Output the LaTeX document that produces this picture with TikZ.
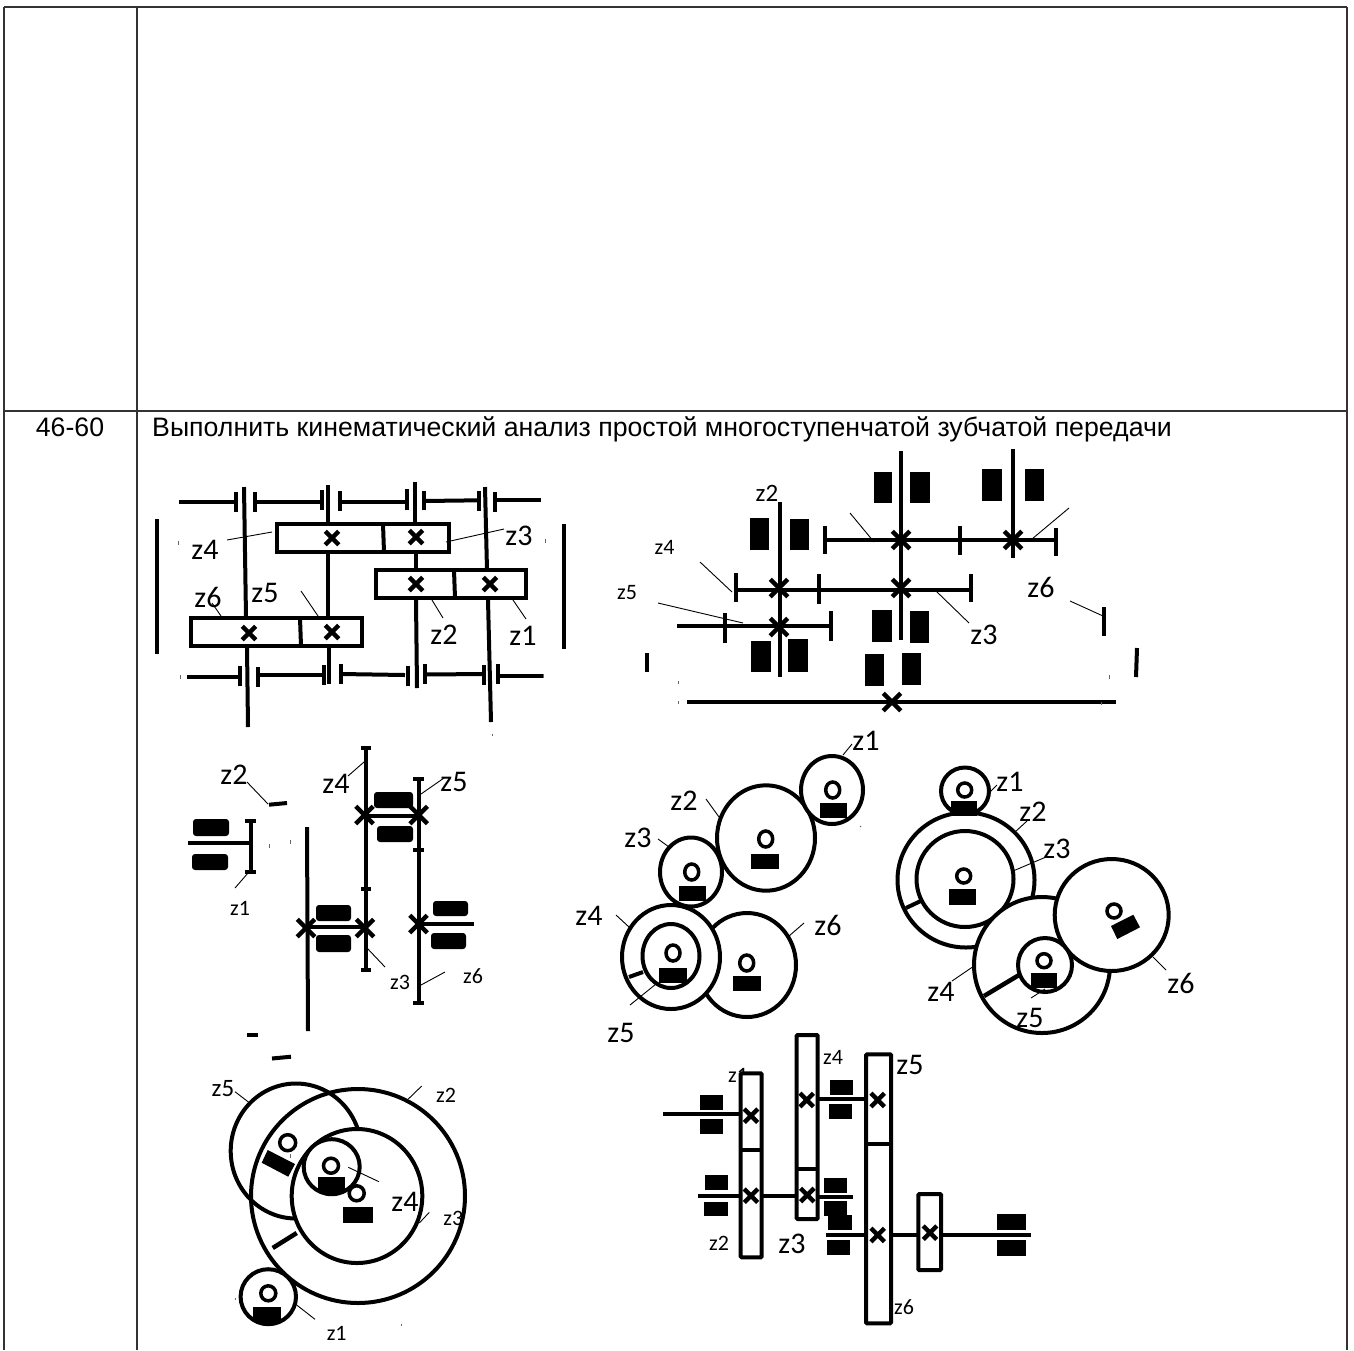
\documentclass[tikz,border=0pt]{standalone}
\usepackage{fontspec}
\setmainfont{Liberation Sans}
\newfontfamily\zfont{Carlito}
\usetikzlibrary{shapes.misc}
\tikzset{
  frameline/.style={line width=1.3pt,black!80},
  shaft/.style={line width=4pt},
  leader/.style={line width=0.9pt},
  speck/.style={line width=0.8pt,black!60},
  gear/.style={line width=4pt,fill=white},
  hub/.style={line width=3.5pt},
  gearx/.style={cross out,draw,line width=4.5pt,inner sep=0pt,minimum size=9pt},
  gearxbig/.style={cross out,draw,line width=4.5pt,inner sep=0pt,minimum size=13pt},
  zbig/.style={font=\zfont\fontsize{30}{30}\selectfont,inner sep=0pt},
  zmid/.style={font=\zfont\fontsize{25}{25}\selectfont,inner sep=0pt},
  zsmall/.style={font=\zfont\fontsize{22}{22}\selectfont,inner sep=0pt},
  tabletext/.style={font=\fontsize{26.7}{26.7}\selectfont,inner sep=0pt},
}
\begin{document}
\begin{tikzpicture}[x=1pt,y=-1pt]
\useasboundingbox[fill=white] (0,0) rectangle (1354,1350);
\coordinate (tl) at (4,7);
\coordinate (tc) at (137,7);
\coordinate (tr) at (1347,7);
\coordinate (ml) at (4,411);
\coordinate (mc) at (137,411);
\coordinate (mr) at (1347,411);
\coordinate (bl) at (4,1350);
\coordinate (bc) at (137,1350);
\coordinate (br) at (1347,1350);
\draw[frameline] (tl) -- (tr);
\draw[frameline] (ml) -- (mr);
\draw[frameline] (tl) -- (bl);
\draw[frameline] (tc) -- (bc);
\draw[frameline] (tr) -- (br);
\draw (70,436.7) node[tabletext,anchor=base] (rowno) {46-60};
\draw (152,436.7) node[tabletext,anchor=base west] (rowtext) {Выполнить кинематический анализ простой многоступенчатой зубчатой передачи};

\draw[shaft] (179,501.7) -- (236,501.7);
\draw[shaft] (255,501.7) -- (322,501.7);
\draw[shaft] (340,501.7) -- (407,501.7);
\draw[shaft] (424,501) -- (479,500.3);
\draw[shaft] (495,499.5) -- (541,499.5);
\draw[shaft] (236,491.7) -- (236,511.7);
\draw[shaft] (255,491.7) -- (255,511.7);
\draw[shaft] (322,490) -- (322,510);
\draw[shaft] (340,491) -- (340,511);
\draw[shaft] (407,489) -- (407,510);
\draw[shaft] (424,491) -- (424,510);
\draw[shaft] (479,491) -- (479,511);
\draw[shaft] (495,492) -- (495,512);
\draw[shaft] (244,487) -- (246,617);
\draw[shaft] (247,647) -- (248,727);
\draw[shaft] (328,485) -- (328,523);
\draw[shaft] (328,552) -- (328,617);
\draw[shaft] (328.5,647) -- (328.5,684);
\draw[shaft] (415,482) -- (415,523);
\draw[shaft] (415.5,552) -- (415.5,570);
\draw[shaft] (416,600) -- (417,688);
\draw[shaft] (485,487) -- (487,570);
\draw[shaft] (488,600) -- (491,722);
\draw[shaft] (277,524) rectangle (449,552);
\draw[shaft] (383,524) -- (384,552);
\draw[shaft] (375.7,570) rectangle (525.7,598);
\draw[shaft] (454,570) -- (455,598);
\draw[shaft] (190.7,618) rectangle (362,646);
\draw[shaft] (300,618) -- (301,646);
\draw (332,538) node[gearx] (xa) {};
\draw (416,537) node[gearx] (xb) {};
\draw (416,584) node[gearx] (xc) {};
\draw (490,584) node[gearx] (xd) {};
\draw (249,633) node[gearx] (xe) {};
\draw (332,632) node[gearx] (xf) {};
\draw[shaft] (187,677) -- (240,677);
\draw[shaft] (258,675) -- (324,675);
\draw[shaft] (341,674) -- (405,675);
\draw[shaft] (425,674.5) -- (484,674);
\draw[shaft] (498,676) -- (544,676);
\draw[shaft] (240,666) -- (240,686);
\draw[shaft] (258,667) -- (258,687);
\draw[shaft] (324,665) -- (324,685);
\draw[shaft] (341,664) -- (341,684);
\draw[shaft] (408,666) -- (408,686);
\draw[shaft] (425,664) -- (425,684);
\draw[shaft] (484,665) -- (484,685);
\draw[shaft] (498,664) -- (498,684);
\draw[shaft] (157,519) -- (157,654);
\draw[shaft] (564,524) -- (564,649);
\draw[leader] (227,540) -- (272,532);
\draw[leader] (446,542) -- (504,529);
\draw[leader] (212,603) -- (221,616);
\draw[leader] (301,591) -- (318,616);
\draw[leader] (432,600) -- (443,618);
\draw[leader] (513,600) -- (526,619);
\draw (205,550) node[zbig] (aza) {z4};
\draw (519,536) node[zbig] (azb) {z3};
\draw (208,597) node[zbig] (azc) {z6};
\draw (265,593) node[zbig] (azd) {z5};
\draw (444,635) node[zbig] (aze) {z2};
\draw (523,636) node[zbig] (azf) {z1};
\draw[speck] (178,541) -- (178,545);
\draw[speck] (545,539) -- (545,543);
\draw[speck] (180,675) -- (180,679);
\draw[speck] (543,674) -- (543,678);
\draw[speck] (492,734) -- (492,736);

\fill (874,472) rectangle (892,503);
\fill (910,472) rectangle (930,503);
\fill (982,469) rectangle (1002,500.5);
\fill (1025,469) rectangle (1044,501);
\fill (750,518) rectangle (769,550);
\fill (790,519) rectangle (809,550);
\fill (871.5,610) rectangle (891.5,642);
\fill (910,611) rectangle (929,643);
\fill (751,641) rectangle (771,672);
\fill (788,639) rectangle (808,672);
\fill (865,654) rectangle (884,686);
\fill (902,653) rectangle (920.5,685);
\draw[shaft] (780,502) -- (780,677);
\draw[shaft] (900.5,451) -- (900.5,640);
\draw[shaft] (1013,449) -- (1013,558);
\draw[shaft] (825,540) -- (1056,540);
\draw[shaft] (825,526) -- (825,554);
\draw[shaft] (960,526) -- (960,555);
\draw[shaft] (1056,528) -- (1056,556);
\draw[shaft] (736,590) -- (971,590);
\draw[shaft] (736,573) -- (736,602);
\draw[shaft] (819,574) -- (819,604);
\draw[shaft] (971,574) -- (971,602);
\draw[shaft] (677,626) -- (832.5,626);
\draw[shaft] (725,613) -- (725,643);
\draw[shaft] (831,611) -- (831,641);
\draw[shaft] (687,702) -- (1116,702);
\draw[shaft] (647,653) -- (647,672);
\draw[shaft] (1137,648) -- (1136,677);
\draw[shaft] (1104,607) -- (1104,636);
\draw (901,540) node[gearxbig] (xg) {};
\draw (1013,540) node[gearxbig] (xh) {};
\draw (779,588) node[gearxbig] (xi) {};
\draw (901,588) node[gearxbig] (xj) {};
\draw (779,627) node[gearxbig] (xk) {};
\draw (892,702) node[gearxbig] (xl) {};
\draw[leader] (850,513) -- (874,542);
\draw[leader] (1069,508) -- (1032,539);
\draw[leader] (700,562) -- (732,592);
\draw[leader] (658,603) -- (743,623);
\draw[leader] (936,591) -- (969,623);
\draw[leader] (1070,601) -- (1103,616);
\draw (767,493) node[zmid] (bzb) {z2};
\draw (664.5,547) node[zsmall] (bzd) {z4};
\draw (627,593) node[zsmall] (bze) {z5};
\draw (984,635) node[zbig] (bzc) {z3};
\draw (1041,587) node[zbig] (bzf) {z6};
\draw[speck] (678,681) -- (678,684);
\draw[speck] (678,701) -- (678,704);
\draw[speck] (1109,675) -- (1109,679);
\draw[speck] (1101,702) -- (1101,705);

\fill[rounded corners=3pt] (193,819) rectangle (229,836);
\fill[rounded corners=3pt] (192,854) rectangle (228,870);
\fill[rounded corners=3pt] (316,905) rectangle (351,921);
\fill[rounded corners=3pt] (316,935) rectangle (351,952);
\fill[rounded corners=3pt] (374,792) rectangle (413,808);
\fill[rounded corners=3pt] (377,826) rectangle (413,842);
\fill[rounded corners=3pt] (433,901) rectangle (468,916);
\fill[rounded corners=3pt] (431,933) rectangle (466,949);
\draw[shaft] (188,843) -- (250.7,843);
\draw[shaft] (250.7,821) -- (250.7,872);
\draw[shaft] (245,821) -- (256,821);
\draw[shaft] (245,872) -- (256,872);
\draw[shaft] (307,827) -- (308,1031);
\draw[shaft] (366,748) -- (366,970);
\draw[shaft] (361,748) -- (371,748);
\draw[shaft] (361,889) -- (371,889);
\draw[shaft] (361,970) -- (371,970);
\draw[shaft] (418.7,779) -- (418.7,1003);
\draw[shaft] (413,779) -- (424,779);
\draw[shaft] (413,850) -- (424,850);
\draw[shaft] (413,1003) -- (424,1003);
\draw[shaft] (365.7,816) -- (418.7,816);
\draw[shaft] (307,927) -- (366,927);
\draw[shaft] (418.7,924) -- (474,924);
\draw (364.5,815) node[gearxbig] (xm) {};
\draw (418.7,815) node[gearxbig] (xn) {};
\draw (306,928) node[gearxbig] (xo) {};
\draw (365,928) node[gearxbig] (xp) {};
\draw (418.5,924) node[gearxbig] (xq) {};
\draw[shaft] (269,804.7) -- (287,803);
\draw[shaft] (247,1035) -- (258,1035);
\draw[shaft] (272,1058.5) -- (291,1056.7);
\draw[leader] (247,782) -- (268,804);
\draw[leader] (348,776) -- (364,762);
\draw[leader] (421,794) -- (444,778);
\draw[leader] (235,888) -- (248,873);
\draw[leader] (367,948) -- (385,967);
\draw[leader] (421,985) -- (445,972);
\draw (234,775) node[zbig] (cza) {z2};
\draw (336,784) node[zbig] (czb) {z4};
\draw (454,782) node[zbig] (czc) {z5};
\draw (240,908) node[zsmall] (czd) {z1};
\draw (400,982) node[zsmall] (cze) {z3};
\draw (473,976) node[zsmall] (czf) {z6};
\draw[speck] (269,844) -- (269,848);
\draw[speck] (290,840) -- (290,844);

\draw[gear] (747,965) ellipse (49 and 52);
\draw[gear] (671,957) ellipse (49 and 52);
\draw[gear] (671,956) ellipse (28.5 and 32);
\draw[gear] (691,872) ellipse (31 and 34.5);
\draw[gear] (766,838) ellipse (49 and 52.7);
\draw[gear] (832,790) ellipse (31 and 34);
\draw[hub] (832.7,790) ellipse (7 and 8);
\draw[hub] (765.7,839) ellipse (7 and 8);
\draw[hub] (691.7,872) ellipse (7 and 8);
\draw[hub] (673,953) ellipse (7 and 8);
\draw[hub] (746.7,963) ellipse (7 and 8);
\fill (820,803) rectangle (847.3,818);
\fill (751,854) rectangle (779,869);
\fill (678.7,886) rectangle (706.3,901);
\fill (659,968) rectangle (687,983);
\fill (733,976) rectangle (761,991);
\draw[shaft] (629,977) -- (643,972);
\draw[leader] (843,755) -- (852,744);
\draw[leader] (706,799) -- (719,817);
\draw[leader] (658,839) -- (669,847);
\draw[leader] (616,915) -- (629,927);
\draw[leader] (630,1005) -- (656,984);
\draw[leader] (804,923) -- (789,936);
\draw (866,741) node[zbig] (dza) {z1};
\draw (684,801) node[zbig] (dzb) {z2};
\draw (638,838) node[zbig] (dzc) {z3};
\draw (589,916) node[zbig] (dzd) {z4};
\draw (621,1033) node[zbig] (dze) {z5};
\draw (828,925) node[zbig] (dzf) {z6};
\draw[speck] (860,826) -- (861,827);

\draw[gear] (965,791) ellipse (24 and 23.5);
\draw[gear] (966,880) ellipse (68.5 and 67.5);
\draw[gear] (965,879) ellipse (48.5 and 48);
\draw[gear] (1042,965) ellipse (68 and 68);
\draw[gear] (1111.7,915) ellipse (57 and 56);
\draw[gear] (1045,965) ellipse (27 and 27);
\draw[hub] (964.7,790) ellipse (7 and 7);
\draw[hub] (963.7,876) ellipse (7 and 7);
\draw[hub] (1044,960.7) ellipse (7 and 7);
\draw[hub] (1114,911) ellipse (7 and 7);
\fill (951,801) rectangle (977,816);
\fill (949,889) rectangle (975.7,904.7);
\fill (1031,973) rectangle (1057,988);
\fill (1111,926) -- (1133.3,914.7) -- (1140,927.3) -- (1117.3,939) -- cycle;
\draw[shaft] (906,908) -- (920.7,901);
\draw[shaft,line width=4.5pt] (984,996) -- (1019,975);
\draw[leader] (990,792) -- (997,785);
\draw[leader] (1015,832) -- (1027,821);
\draw[leader] (1013,871) -- (1046,857);
\draw[leader] (952,981) -- (974,966);
\draw[leader] (1031,998) -- (1045,989);
\draw[leader] (1153,957) -- (1166,970);
\draw (1010,782) node[zbig] (eza) {z1};
\draw (1033,812) node[zbig] (ezb) {z2};
\draw (1057,849) node[zbig] (ezc) {z3};
\draw (941,992) node[zbig] (ezd) {z4};
\draw (1030,1018) node[zbig] (eze) {z5};
\draw (1181,983) node[zbig] (ezf) {z6};

\draw[line width=4pt] (296,1151) ellipse (65.3 and 67.5);
\draw[line width=4pt] (358,1196) ellipse (107 and 107);
\draw[gear] (357,1196) ellipse (65.3 and 67);
\draw[gear] (331.7,1166.7) ellipse (28 and 27.5);
\draw[gear] (268.3,1296.7) ellipse (27.7 and 27.5);
\draw[hub] (287.7,1142.7) ellipse (8 and 8);
\draw[hub] (331,1165.7) ellipse (7.5 and 7.5);
\draw[hub] (356.7,1193.3) ellipse (7.5 and 7.5);
\draw[hub] (268.3,1293.3) ellipse (7.5 and 7.5);
\fill (267.7,1150) -- (295,1164) -- (288.3,1176.7) -- (261.7,1162.7) -- cycle;
\fill (318,1177) rectangle (345,1192);
\fill (343,1207) rectangle (373.3,1222.7);
\fill (253,1307) rectangle (280.7,1321.7);
\draw[shaft,line width=4.5pt] (272.7,1248) -- (296.7,1233);
\draw[leader] (235,1091.7) -- (249.3,1102.7);
\draw[leader] (421.7,1086) -- (408.3,1099);
\draw[leader] (348.3,1167.3) -- (379,1181.7);
\draw[leader] (429.3,1212.3) -- (419.3,1223);
\draw[leader] (296.7,1305) -- (315,1319.3);
\draw (223,1089) node[zmid] (fza) {z5};
\draw (446,1095) node[zsmall] (fzb) {z2};
\draw (405,1201.7) node[zbig] (fzc) {z4};
\draw (453.3,1218) node[zsmall] (fzd) {z3};
\draw (336.7,1333) node[zsmall] (fze) {z1};
\draw[speck] (235.7,1298) -- (235.7,1300);
\draw[speck] (401.7,1324) -- (401.7,1326);
\draw[speck] (290.7,1154) -- (290.7,1158);

\draw (738,1075) node[zsmall] (gza) {z1};
\draw (833,1057) node[zsmall] (gzb) {z4};
\draw (910,1065) node[zbig] (gzc) {z5};
\draw (719,1243) node[zsmall] (gzd) {z2};
\draw (792,1244) node[zbig] (gze) {z3};
\draw (904,1307) node[zsmall] (gzf) {z6};
\fill (700,1095) rectangle (722.7,1110);
\fill (700,1119.3) rectangle (722.7,1134.3);
\fill (705,1175) rectangle (727.7,1190);
\fill (704.3,1201.7) rectangle (727.7,1216);
\fill (830,1080) rectangle (853.3,1095);
\fill (829,1104.3) rectangle (851.7,1119);
\fill (824.3,1177.7) rectangle (847.3,1193.3);
\fill (824.3,1201) rectangle (846.7,1216);
\fill (828.3,1215) rectangle (851.7,1230);
\fill (827.3,1240) rectangle (850,1255);
\fill (997.3,1214.3) rectangle (1026,1230);
\fill (997.3,1240) rectangle (1026,1255.7);
\draw[shaft] (663.3,1114.3) -- (740.7,1114.3);
\draw[shaft] (697.7,1195.7) -- (740.7,1195.7);
\draw[shaft] (761.7,1195.7) -- (796.7,1195.7);
\draw[shaft] (817.7,1099.3) -- (866,1099.3);
\draw[shaft] (817.7,1196.7) -- (852.7,1196.7);
\draw[shaft] (826,1235) -- (866,1235);
\draw[shaft] (891,1235) -- (918.3,1235);
\draw[shaft] (941,1235) -- (1031,1235);
\draw[gear,rounded corners=1pt] (740.7,1073.3) rectangle (761.7,1257.3);
\draw[shaft] (740.7,1150) -- (761.7,1150);
\draw[gear,rounded corners=1pt] (796.7,1035) rectangle (817.7,1219);
\draw[shaft] (796.7,1169) -- (817.7,1169);
\draw[gear,rounded corners=1pt] (866,1054.3) rectangle (891,1323.3);
\draw[shaft] (866,1144) -- (891,1144);
\draw[gear,rounded corners=1pt] (918.3,1194) rectangle (941,1270);
\draw (751,1115.7) node[gearx] (xr) {};
\draw (751,1195.7) node[gearx] (xs) {};
\draw (806.7,1100) node[gearx] (xt) {};
\draw (807.3,1195) node[gearx] (xu) {};
\draw (877.7,1100) node[gearx] (xv) {};
\draw (877.7,1235) node[gearx] (xw) {};
\draw (930,1232.7) node[gearx] (xy) {};
\end{tikzpicture}
\end{document}
